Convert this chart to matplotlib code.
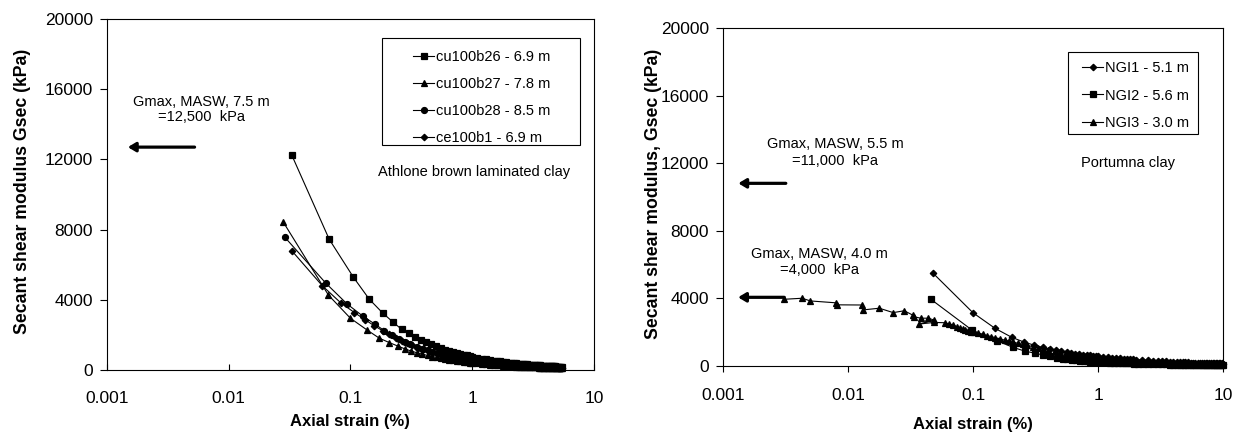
import matplotlib
matplotlib.use("Agg")
import matplotlib.pyplot as plt
from matplotlib.patches import Rectangle

plt.rcParams["font.family"] = ["Liberation Sans", "DejaVu Sans"]

# ---------------- Athlone (left panel) ----------------
cu100b26_strain = [0.033, 0.067, 0.106, 0.143, 0.184, 0.222, 0.263, 0.30, 0.34, 0.38, 0.42, 0.46,
                   0.50, 0.55, 0.60, 0.65, 0.70, 0.75, 0.80, 0.85, 0.90, 0.95, 1.0, 1.1, 1.2, 1.3,
                   1.4, 1.5, 1.6, 1.7, 1.8, 1.9, 2.0, 2.1, 2.2, 2.3, 2.4, 2.5, 2.6, 2.7, 2.8, 2.9,
                   3.0, 3.1, 3.2, 3.3, 3.4, 3.5, 3.6, 3.7, 3.8, 3.9, 4.0, 4.1, 4.2, 4.3, 4.4, 4.5,
                   4.6, 4.7, 4.8, 4.9, 5.0, 5.1, 5.2, 5.3, 5.4, 5.5]
cu100b26_g = [12250, 7450, 5280, 4030, 3250, 2750, 2320, 2090, 1880, 1710, 1575, 1460,
              1360, 1255, 1165, 1090, 1025, 965, 915, 870, 830, 790, 757, 700, 650, 607,
              571, 538, 510, 485, 462, 441, 423, 405, 390, 376, 362, 350, 339, 328, 318, 309,
              300, 292, 284, 277, 270, 264, 257, 252, 246, 241, 236, 231, 226, 222, 217, 213,
              209, 206, 202, 198, 195, 192, 189, 186, 183, 180]

cu100b27_strain = [0.028, 0.066, 0.100, 0.137, 0.173, 0.209, 0.244, 0.281, 0.314, 0.35, 0.39, 0.43,
                   0.47, 0.51, 0.55, 0.60, 0.65, 0.70, 0.75, 0.80, 0.85, 0.90, 0.95, 1.0, 1.1, 1.2,
                   1.3, 1.4, 1.5, 1.6, 1.7, 1.8, 1.9, 2.0, 2.1, 2.2, 2.3, 2.4, 2.5, 2.6, 2.7, 2.8,
                   2.9, 3.0, 3.1, 3.2, 3.3, 3.4, 3.5, 3.6, 3.7, 3.8, 3.9, 4.0, 4.1, 4.2, 4.3, 4.4,
                   4.5, 4.6, 4.7, 4.8, 4.9, 5.0, 5.1, 5.2, 5.3, 5.4, 5.5]
cu100b27_g = [8450, 4270, 2950, 2280, 1810, 1560, 1370, 1200, 1083, 988, 901, 829,
              769, 717, 673, 625, 584, 548, 517, 489, 465, 443, 423, 405, 373, 347,
              324, 304, 287, 271, 258, 246, 234, 224, 215, 207, 199, 192, 186, 180, 174, 169,
              164, 159, 155, 151, 147, 143, 139, 136, 133, 130, 127, 125, 122, 119, 117, 115,
              113, 111, 109, 107, 105, 103, 101, 100, 98, 96, 95]

cu100b28_strain = [0.029, 0.063, 0.094, 0.126, 0.160, 0.190, 0.219, 0.25, 0.28, 0.31, 0.35, 0.39,
                   0.43, 0.47, 0.51, 0.55, 0.60, 0.65, 0.70, 0.75, 0.80, 0.85, 0.90, 0.95, 1.0,
                   1.1, 1.2, 1.3, 1.4, 1.5, 1.6, 1.7, 1.8, 1.9, 2.0, 2.1, 2.2, 2.3, 2.4, 2.5, 2.6,
                   2.7, 2.8, 2.9, 3.0, 3.1, 3.2, 3.3, 3.4, 3.5, 3.6, 3.7, 3.8, 3.9, 4.0, 4.1, 4.2,
                   4.3, 4.4, 4.5, 4.6, 4.7, 4.8, 4.9, 5.0, 5.1, 5.2, 5.3, 5.4, 5.5]
cu100b28_g = [7560, 4940, 3760, 3080, 2600, 2240, 2000, 1770, 1609, 1478, 1336, 1222,
              1127, 1046, 978, 918, 854, 799, 752, 710, 673, 640, 610, 583, 559,
              517, 481, 450, 423, 399, 378, 360, 343, 328, 315, 302, 291, 280, 270, 261, 253,
              245, 238, 231, 225, 219, 213, 208, 202, 198, 193, 189, 185, 181, 177, 173, 170,
              167, 163, 160, 158, 155, 152, 150, 147, 145, 142, 140, 138, 136]

ce100b1_strain = [0.033, 0.059, 0.083, 0.108, 0.133, 0.157, 0.184, 0.209, 0.237, 0.265, 0.29, 0.32,
                  0.36, 0.40, 0.44, 0.48, 0.52, 0.57, 0.62, 0.67, 0.72, 0.77, 0.82, 0.87, 0.92,
                  0.97, 1.05, 1.15, 1.25, 1.35, 1.45, 1.55, 1.65, 1.75, 1.85, 1.95, 2.1, 2.2, 2.3,
                  2.4, 2.5, 2.6, 2.7, 2.8, 2.9, 3.0, 3.1, 3.2, 3.3, 3.4, 3.5, 3.6, 3.7, 3.8, 3.9,
                  4.0, 4.1, 4.2, 4.3, 4.4, 4.5, 4.6, 4.7, 4.8, 4.9, 5.0, 5.1, 5.2, 5.3, 5.4, 5.5]
ce100b1_g = [6800, 4790, 3840, 3270, 2850, 2520, 2240, 2040, 1810, 1646, 1527, 1408,
             1277, 1170, 1081, 1005, 941, 872, 813, 762, 718, 679, 645, 614, 586,
             561, 525, 487, 454, 426, 402, 380, 361, 344, 328, 314, 295, 285, 274,
             264, 256, 247, 240, 233, 226, 220, 214, 208, 203, 198, 193, 189, 185, 181, 177,
             173, 170, 166, 163, 159, 157, 155, 151, 149, 146, 144, 141, 139, 137, 135, 133]

# ---------------- Portumna (right panel) ----------------
ngi1_strain = [0.048, 0.100, 0.150, 0.204, 0.255, 0.31, 0.36, 0.41, 0.46, 0.51, 0.56, 0.61, 0.66,
               0.71, 0.76, 0.81, 0.86, 0.91, 0.96, 1.0, 1.1, 1.2, 1.3, 1.4, 1.5, 1.6, 1.7, 1.8,
               1.9, 2.0, 2.25, 2.5, 2.75, 3.0, 3.25, 3.5, 3.75, 4.0, 4.25, 4.5, 4.75, 5.0, 5.25,
               5.5, 5.75, 6.0, 6.25, 6.5, 6.75, 7.0, 7.25, 7.5, 7.75, 8.0, 8.25, 8.5, 8.75, 9.0,
               9.25, 9.5, 9.75, 10.0]
ngi1_g = [5485, 3150, 2230, 1700, 1420, 1230, 1100, 1000, 920, 860, 810, 770, 735,
          700, 675, 650, 625, 605, 585, 570, 550, 520, 495, 470, 450, 432, 416, 402,
          390, 378, 352, 330, 312, 296, 283, 270, 260, 250, 241, 233, 226, 219, 213,
          207, 202, 197, 192, 188, 184, 180, 176, 173, 170, 167, 164, 161, 158, 156,
          153, 151, 149, 147]

ngi2_strain = [0.046, 0.098, 0.155, 0.208, 0.26, 0.313, 0.365, 0.415, 0.468, 0.52, 0.57, 0.62,
               0.67, 0.72, 0.77, 0.82, 0.87, 0.92, 0.97, 1.05, 1.15, 1.25, 1.35, 1.45, 1.55,
               1.65, 1.75, 1.85, 1.95, 2.1, 2.3, 2.5, 2.75, 3.0, 3.25, 3.5, 3.75, 4.0, 4.25,
               4.5, 4.75, 5.0, 5.25, 5.5, 5.75, 6.0, 6.25, 6.5, 6.75, 7.0, 7.25, 7.5, 7.75,
               8.0, 8.25, 8.5, 8.75, 9.0, 9.25, 9.5, 9.75, 10.0]
ngi2_g = [3950, 2130, 1500, 1110, 880, 760, 650, 570, 500, 440, 395, 360,
          330, 305, 290, 275, 262, 250, 240, 228, 214, 202, 192, 183, 175,
          167, 160, 153, 147, 139, 129, 121, 112, 104, 98, 92, 87, 83, 79,
          76, 73, 70, 67, 65, 63, 61, 59, 57, 55, 54, 52, 51, 49,
          48, 47, 46, 45, 44, 43, 42, 41, 40]

ngi3_strain = [0.0031, 0.0043, 0.0050, 0.0080, 0.0082, 0.0130, 0.0132, 0.0178, 0.0230, 0.0282,
               0.0330, 0.0335, 0.0382, 0.0439, 0.0488, 0.0368, 0.0490, 0.0597, 0.0646, 0.0696,
               0.0741, 0.0787, 0.0827, 0.087, 0.092, 0.097, 0.102, 0.11, 0.12, 0.13, 0.14,
               0.15, 0.165, 0.18, 0.195, 0.21, 0.23, 0.25, 0.27, 0.30, 0.33, 0.36, 0.40, 0.45,
               0.50, 0.55, 0.60, 0.65, 0.70, 0.75, 0.80, 0.85, 0.90, 0.95, 1.0, 1.1, 1.2, 1.3,
               1.4, 1.5, 1.6, 1.7, 1.8, 1.9, 2.0, 2.25, 2.5, 2.75, 3.0, 3.25, 3.5, 3.75, 4.0,
               4.25, 4.5, 4.75, 5.0, 5.25, 5.5, 5.75, 6.0, 6.25, 6.5, 6.75, 7.0, 7.25, 7.5,
               7.75, 8.0, 8.25, 8.5, 8.75, 9.0, 9.25, 9.5, 9.75, 10.0]
ngi3_g = [3950, 4010, 3850, 3740, 3620, 3610, 3320, 3420, 3160, 3270,
          3010, 2920, 2830, 2830, 2720, 2480, 2580, 2560, 2490, 2430,
          2330, 2230, 2170, 2130, 2090, 2040, 2000, 1940, 1870, 1800, 1740,
          1680, 1600, 1530, 1470, 1410, 1340, 1280, 1220, 1150, 1080, 1020, 950, 880,
          820, 770, 720, 680, 645, 615, 585, 560, 540, 520, 500, 470, 445, 420,
          400, 382, 366, 352, 339, 327, 316, 292, 272, 255, 240, 227, 215, 205, 196,
          188, 180, 173, 166, 160, 155, 150, 145, 141, 137, 133, 130, 126, 123,
          120, 117, 114, 112, 109, 107, 105, 103, 101, 99]

x_ticks = [0.001, 0.01, 0.1, 1, 10]
x_tick_labels = ["0.001", "0.01", "0.1", "1", "10"]
y_ticks = [0, 4000, 8000, 12000, 16000, 20000]

FS_TICK = 12.5
FS_TEXT = 10.5


def style_axes(ax, tick_dir, ylabel):
    ax.set_xscale("log")
    ax.set_xlim(0.001, 10)
    ax.set_ylim(0, 20000)
    ax.set_xticks(x_ticks)
    ax.set_xticklabels(x_tick_labels)
    ax.minorticks_off()
    ax.set_yticks(y_ticks)
    ax.set_yticklabels([str(v) for v in y_ticks])
    ax.tick_params(axis="x", direction=tick_dir, length=4, width=0.8,
                   labelsize=FS_TICK, pad=15 if tick_dir == "in" else 12)
    ax.tick_params(axis="y", direction="out", length=5, width=0.8,
                   labelsize=FS_TICK, pad=5)
    for sp in ax.spines.values():
        sp.set_linewidth(0.8)
        sp.set_color("black")
    ax.set_xlabel("Axial strain (%)", fontsize=12, fontweight="bold")
    ax.set_ylabel(ylabel, fontsize=12.7, fontweight="bold")


def plot_series(ax, x, y, marker, ms, label):
    ax.plot(x, y, color="black", lw=0.8, marker=marker, ms=ms,
            mfc="black", mec="black", mew=0.9, label=label, clip_on=False)


def arrow(ax, x_from, x_to, y):
    ax.annotate("", xy=(x_to, y), xytext=(x_from, y),
                arrowprops=dict(arrowstyle="-|>,head_length=0.5,head_width=0.3",
                                lw=2.3, color="black", shrinkA=0, shrinkB=0,
                                mutation_scale=9))


fig = plt.figure(figsize=(12.34, 4.33), dpi=100)
ax1 = fig.add_axes([0.0865, 0.1455, 0.3949, 0.8106])
ax2 = fig.add_axes([0.5859, 0.1547, 0.4052, 0.7806])

# left panel
plot_series(ax1, cu100b26_strain, cu100b26_g, "s", 4.0, "cu100b26 - 6.9 m")
plot_series(ax1, cu100b27_strain, cu100b27_g, "^", 4.6, "cu100b27 - 7.8 m")
plot_series(ax1, cu100b28_strain, cu100b28_g, "o", 4.3, "cu100b28 - 8.5 m")
plot_series(ax1, ce100b1_strain, ce100b1_g, "D", 3.3, "ce100b1 - 6.9 m")
style_axes(ax1, "in", "Secant shear modulus Gsec (kPa)")
ax1.yaxis.set_label_coords(-0.155, 0.51)
ax1.xaxis.set_label_coords(0.5, -0.125)

ax1.text(0.0060, 14850, "Gmax, MASW, 7.5 m\n=12,500  kPa", ha="center", va="center",
         fontsize=FS_TEXT, linespacing=1.15)
arrow(ax1, 0.00526, 0.00149, 12700)
ax1.text(1.03, 11290, "Athlone brown laminated clay", ha="center", va="center",
         fontsize=FS_TEXT)

ax1.legend(loc="upper left", bbox_to_anchor=(0.6286, 0.912), frameon=False,
           fontsize=FS_TEXT, handlelength=1.45, handletextpad=0.1,
           labelspacing=0.9, borderpad=0, borderaxespad=0)
ax1.add_patch(Rectangle((0.5643, 0.641), 0.407, 0.3057, transform=ax1.transAxes,
                        fill=False, ec="black", lw=0.8, clip_on=False))

# right panel
plot_series(ax2, ngi1_strain, ngi1_g, "D", 3.3, "NGI1 - 5.1 m")
plot_series(ax2, ngi2_strain, ngi2_g, "s", 4.0, "NGI2 - 5.6 m")
plot_series(ax2, ngi3_strain, ngi3_g, "^", 4.6, "NGI3 - 3.0 m")
style_axes(ax2, "out", "Secant shear modulus, Gsec (kPa)")
ax2.yaxis.set_label_coords(-0.122, 0.51)
ax2.xaxis.set_label_coords(0.5, -0.150)

ax2.text(0.00794, 12630, "Gmax, MASW, 5.5 m\n=11,000  kPa", ha="center", va="center",
         fontsize=FS_TEXT, linespacing=1.35)
arrow(ax2, 0.00318, 0.001325, 10810)
ax2.text(0.0059, 6150, "Gmax, MASW, 4.0 m\n=4,000  kPa", ha="center", va="center",
         fontsize=FS_TEXT, linespacing=1.15)
arrow(ax2, 0.00309, 0.00132, 4065)
ax2.text(1.73, 12030, "Portumna clay", ha="center", va="center", fontsize=FS_TEXT)

ax2.legend(loc="upper left", bbox_to_anchor=(0.7186, 0.901), frameon=False,
           fontsize=FS_TEXT, handlelength=1.45, handletextpad=0.1,
           labelspacing=0.9, borderpad=0, borderaxespad=0)
ax2.add_patch(Rectangle((0.6894, 0.6855), 0.2612, 0.2425, transform=ax2.transAxes,
                        fill=False, ec="black", lw=0.8, clip_on=False))

fig.savefig("out.png", dpi=100)
